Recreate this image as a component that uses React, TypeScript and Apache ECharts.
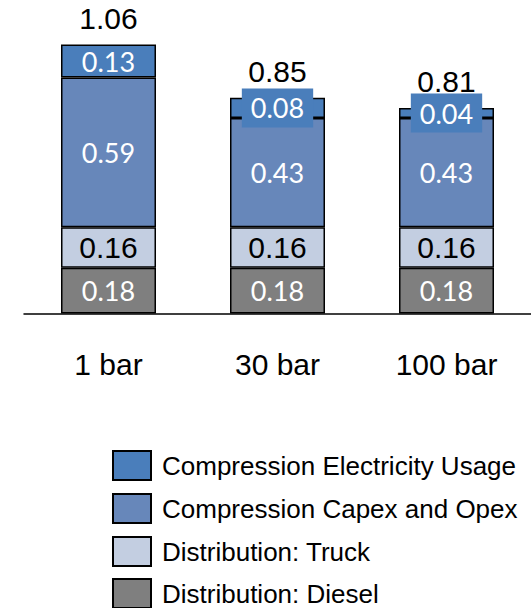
import React, { useEffect, useRef } from "react";
import * as echarts from "echarts";

const categories = ["1 bar", "30 bar", "100 bar"];
const diesel = [0.18, 0.18, 0.18];
const truck = [0.16, 0.16, 0.16];
const capex = [0.59, 0.43, 0.43];
const electricity = [0.13, 0.08, 0.04];
const totals = [1.06, 0.85, 0.81];
// bars whose small top segment label carries its own coloured box
const boxedElectricity = [false, true, true];

const NAMES = {
  elec: "Compression Electricity Usage",
  capex: "Compression Capex and Opex",
  truck: "Distribution: Truck",
  diesel: "Distribution: Diesel",
};
const legendOrder = [NAMES.elec, NAMES.capex, NAMES.truck, NAMES.diesel];

const COLORS = {
  elec: "#4a7ebb",
  capex: "#6787ba",
  truck: "#c3cee1",
  diesel: "#7f7f7f",
};

const ARIAL = "'Liberation Sans', Arial, sans-serif";
const WHITE_FONT = "Lato, 'Open Sans', sans-serif";

export default function App() {
  const ref = useRef<HTMLDivElement>(null);

  useEffect(() => {
    if (!ref.current) return;
    const chart = echarts.init(ref.current, undefined, { renderer: "svg" });

    const border = { borderColor: "#000", borderWidth: 1.5 };
    const whiteLabel = {
      show: true,
      position: "inside",
      color: "#ffffff",
      fontSize: 27,
      fontFamily: WHITE_FONT,
      formatter: (p: any) => Number(p.value).toFixed(2),
    };
    const blackLabel = {
      show: true,
      position: "inside",
      color: "#000000",
      fontSize: 30,
      fontFamily: ARIAL,
      formatter: (p: any) => Number(p.value).toFixed(2),
    };

    const legendTops = [450, 493, 536, 578];
    const legends = legendOrder.map((name, i) => ({
      orient: "vertical",
      left: 112,
      top: legendTops[i],
      padding: 0,
      itemWidth: 38,
      itemHeight: 29,
      icon: "rect",
      data: [name],
      itemStyle: { borderColor: "#000", borderWidth: 2 },
      textStyle: { color: "#000", fontSize: 26, lineHeight: 29, fontFamily: ARIAL, padding: [0, 0, 0, 6] },
    }));

    const option: any = {
      animation: false,
      backgroundColor: "#ffffff",
      grid: { left: 24, width: 511, top: 9, bottom: 294.5, containLabel: false },
      xAxis: {
        type: "category",
        data: categories,
        axisLine: { show: true, lineStyle: { color: "#000", width: 1.5 } },
        axisTick: { show: false },
        axisLabel: { color: "#000", fontSize: 30, fontFamily: ARIAL, margin: 36 },
      },
      yAxis: { type: "value", min: 0, max: 1.2, show: false, splitLine: { show: false } },
      legend: legends,
      series: [
        {
          name: NAMES.diesel,
          type: "bar",
          stack: "s",
          barWidth: 95,
          data: diesel,
          itemStyle: { color: COLORS.diesel, ...border },
          label: whiteLabel,
        },
        {
          name: NAMES.truck,
          type: "bar",
          stack: "s",
          barWidth: 95,
          data: truck,
          itemStyle: { color: COLORS.truck, ...border },
          label: blackLabel,
        },
        {
          name: NAMES.capex,
          type: "bar",
          stack: "s",
          barWidth: 95,
          data: capex,
          itemStyle: { color: COLORS.capex, ...border },
          label: whiteLabel,
        },
        {
          name: NAMES.elec,
          type: "bar",
          stack: "s",
          barWidth: 95,
          data: electricity.map((v, i) =>
            boxedElectricity[i]
              ? {
                  value: v,
                  label: {
                    backgroundColor: COLORS.elec,
                    padding: [5, 9, 5, 9],
                    lineHeight: 29,
                  },
                }
              : { value: v }
          ),
          itemStyle: { color: COLORS.elec, ...border },
          label: whiteLabel,
        },
        {
          name: "total",
          type: "bar",
          stack: "s",
          barWidth: 95,
          data: totals.map(() => 0),
          itemStyle: { color: "transparent", borderWidth: 0 },
          silent: true,
          label: {
            show: true,
            position: "top",
            distance: 11,
            color: "#000",
            fontSize: 30,
            fontFamily: ARIAL,
            formatter: (p: any) => totals[p.dataIndex].toFixed(2),
          },
        },
      ],
    };

    chart.setOption(option);
    return () => chart.dispose();
  }, []);

  return (
    <div
      ref={ref}
      style={{ position: "fixed", left: 0, top: 0, width: 531, height: 608, background: "#fff" }}
    />
  );
}
